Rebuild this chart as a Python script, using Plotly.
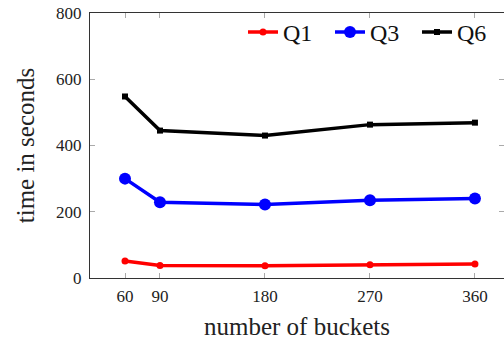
import plotly.graph_objects as go

buckets = [60, 90, 180, 270, 360]
q1 = [51, 38, 37, 40, 42]
q3 = [300, 229, 222, 235, 240]
q6 = [548, 445, 430, 463, 469]
x_ticks = [60, 90, 180, 270, 360]
y_ticks = [0, 200, 400, 600, 800]

FONT = "Liberation Serif"

fig = go.Figure()
fig.add_trace(go.Scatter(x=buckets, y=q1, name="Q1", mode="lines+markers",
                         line=dict(color="#ff0000", width=3.5),
                         marker=dict(symbol="circle", size=7, color="#ff0000")))
fig.add_trace(go.Scatter(x=buckets, y=q3, name="Q3", mode="lines+markers",
                         line=dict(color="#0000ff", width=3.5),
                         marker=dict(symbol="circle", size=12, color="#0000ff")))
fig.add_trace(go.Scatter(x=buckets, y=q6, name="Q6", mode="lines+markers",
                         line=dict(color="#000000", width=3.5),
                         marker=dict(symbol="square", size=6, color="#000000")))

fig.update_layout(
    width=504, height=340,
    margin=dict(l=90, r=0, t=13, b=62),
    paper_bgcolor="white", plot_bgcolor="white",
    font=dict(family=FONT, color="#222222", size=17),
    showlegend=True,
    legend=dict(orientation="h", x=1.0, xanchor="right", y=1.012, yanchor="top",
                font=dict(size=24, family=FONT, color="#111111"),
                bgcolor="rgba(0,0,0,0)", itemwidth=30, tracegroupgap=0,
                entrywidth=42, entrywidthmode="pixels"),
    xaxis=dict(range=[30, 384.9], tickvals=x_ticks, ticktext=[str(v) for v in x_ticks],
               showgrid=False, zeroline=False, showline=True, linecolor="#333333",
               linewidth=1, mirror="ticks", ticks="inside", ticklen=5, tickcolor="#aaaaaa",
               tickfont=dict(size=17, family=FONT), ticklabelstandoff=3,
               title=dict(text="number of buckets", font=dict(size=25, family=FONT), standoff=12)),
    yaxis=dict(range=[0, 800], tickvals=y_ticks, ticktext=[str(v) for v in y_ticks],
               showgrid=False, zeroline=False, showline=True, linecolor="#333333",
               linewidth=1, mirror="ticks", ticks="inside", ticklen=5, tickcolor="#aaaaaa",
               tickfont=dict(size=17, family=FONT), ticklabelstandoff=4,
               title=dict(text="time in seconds", font=dict(size=25, family=FONT), standoff=14)),
)

fig.write_html("out.html")
